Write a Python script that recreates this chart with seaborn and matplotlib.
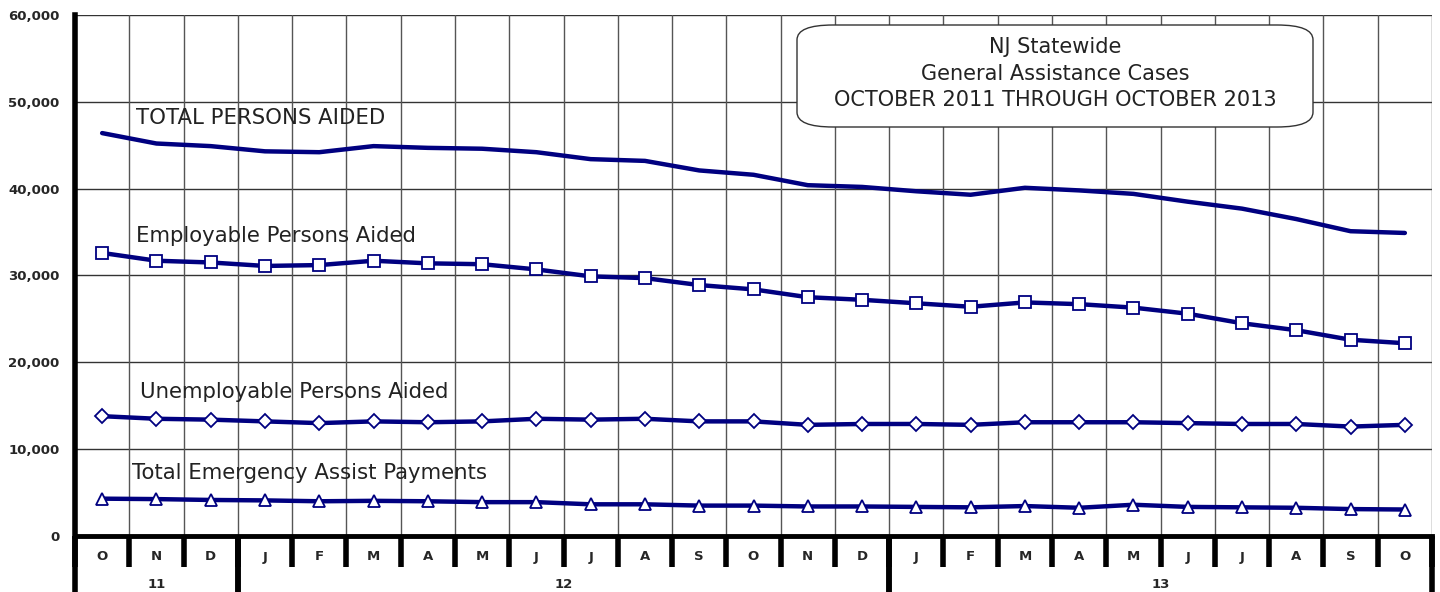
import numpy as np
import pandas as pd
import seaborn as sns
import matplotlib.pyplot as plt
from matplotlib.patches import FancyBboxPatch
from matplotlib.transforms import blended_transform_factory

months = ['O', 'N', 'D', 'J', 'F', 'M', 'A', 'M', 'J', 'J', 'A', 'S', 'O',
          'N', 'D', 'J', 'F', 'M', 'A', 'M', 'J', 'J', 'A', 'S', 'O']
years = ['11', '12', '13']
year_spans = [(0, 3), (3, 15), (15, 25)]

total = [46400, 45200, 44900, 44300, 44200, 44900, 44700, 44600, 44200, 43400,
         43200, 42100, 41600, 40400, 40200, 39700, 39300, 40100, 39800, 39400,
         38500, 37700, 36500, 35100, 34900]
employable = [32600, 31700, 31500, 31100, 31200, 31700, 31400, 31300, 30700, 29900,
              29700, 28900, 28400, 27500, 27200, 26800, 26400, 26900, 26700, 26300,
              25600, 24500, 23700, 22600, 22200]
unemployable = [13800, 13500, 13400, 13200, 13000, 13200, 13100, 13200, 13500, 13400,
                13500, 13200, 13200, 12800, 12900, 12900, 12800, 13100, 13100, 13100,
                13000, 12900, 12900, 12600, 12800]
emergency = [4300, 4250, 4150, 4100, 4000, 4050, 4000, 3900, 3900, 3650,
             3650, 3500, 3500, 3400, 3400, 3350, 3300, 3450, 3250, 3600,
             3350, 3300, 3250, 3100, 3050]

series = [
    ('TOTAL PERSONS AIDED', total, None, 0.62, 47000),
    ('Employable Persons Aided', employable, 's', 0.62, 33400),
    ('Unemployable Persons Aided', unemployable, 'D', 0.70, 15450),
    ('Total Emergency Assist Payments', emergency, '^', 0.55, 6150),
]

sns.set_style("white")
plt.rcParams['font.family'] = ['DejaVu Sans']

fig = plt.figure(figsize=(14.4, 5.92), dpi=100)
ax = fig.add_axes([75 / 1440, 56 / 592, 1357 / 1440, 521 / 592])

x = np.arange(len(months))
navy = '#000080'
for name, vals, mk, lx, ly in series:
    df = pd.DataFrame({'x': x, 'y': vals})
    sns.lineplot(data=df, x='x', y='y', ax=ax, color=navy, linewidth=3.2,
                 marker=mk, markersize=9 if mk != 'D' else 7,
                 markerfacecolor='white', markeredgecolor=navy, markeredgewidth=1.3)
    ax.text(lx, ly, name, fontsize=15.3, color='#222222',
            ha='left', va='bottom')

ax.set_xlim(-0.5, len(months) - 0.5)
ax.set_ylim(0, 60000)
ax.set_yticks(range(0, 60001, 10000))
ax.set_yticklabels([f'{v:,}' for v in range(0, 60001, 10000)],
                   fontsize=9.5, fontweight='bold')
ax.set_xticks([])
ax.set_xlabel('')
ax.set_ylabel('')
ax.tick_params(axis='y', direction='out', length=6, width=3, pad=5)

for v in range(10000, 60001, 10000):
    ax.axhline(v, color='#333333', linewidth=1.0, zorder=0)
for k in range(len(months)):
    ax.axvline(k + 0.5, color='#555555', linewidth=1.0, zorder=0)

for side in ['top', 'right']:
    ax.spines[side].set_visible(False)
ax.spines['left'].set_linewidth(4)
ax.spines['bottom'].set_linewidth(3.5)
ax.spines['left'].set_color('black')
ax.spines['bottom'].set_color('black')

# category axis below the plot
tr = blended_transform_factory(ax.transData, ax.transAxes)
row1 = -31 / 521
row2 = -60 / 521
for k, m in enumerate(months):
    ax.text(k, -21 / 521, m, transform=tr, ha='center', va='center',
            fontsize=9.5, fontweight='bold')
for k in range(len(months) + 1):
    ax.plot([k - 0.5, k - 0.5], [0, row1], transform=tr, color='black',
            linewidth=4, clip_on=False, solid_capstyle='butt')
for lbl, (a, b) in zip(years, year_spans):
    ax.text((a + b - 1) / 2, -49 / 521, lbl, transform=tr, ha='center',
            va='center', fontsize=9.5, fontweight='bold')
    for e in (a, b):
        ax.plot([e - 0.5, e - 0.5], [0, row2], transform=tr, color='black',
                linewidth=4, clip_on=False, solid_capstyle='butt')

# title box
box = FancyBboxPatch((797 / 1440, (592 - 127) / 592), 516 / 1440, 102 / 592,
                     boxstyle='round,pad=0,rounding_size=0.025',
                     transform=fig.transFigure, facecolor='white',
                     edgecolor='#333333', linewidth=1.0, zorder=5)
fig.patches.append(box)
for i, line in enumerate(['NJ Statewide', 'General Assistance Cases',
                          'OCTOBER 2011 THROUGH OCTOBER 2013']):
    fig.text(1055 / 1440, (592 - 47 - 26.5 * i) / 592, line, ha='center',
             va='center', fontsize=15, color='#222222', zorder=6)

fig.savefig('out.png', dpi=100)
